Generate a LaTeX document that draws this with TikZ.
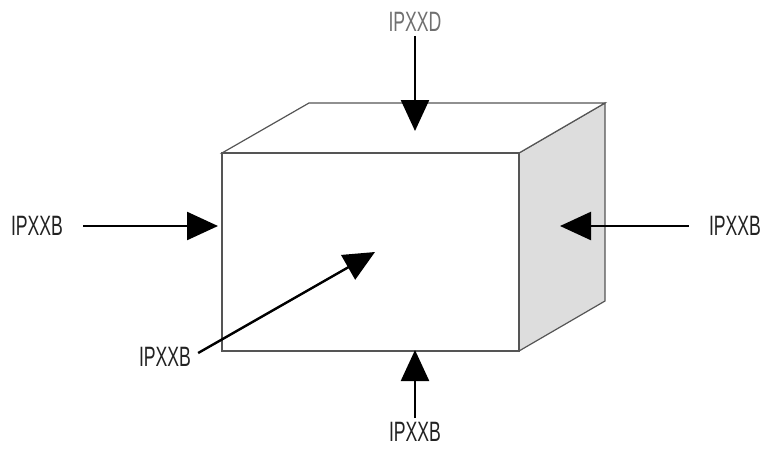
\documentclass[tikz,border=0pt]{standalone}
\usepackage{fontspec}
\setmainfont{Liberation Sans}[FakeStretch=0.63]
\usetikzlibrary{arrows.meta,positioning}
\definecolor{edgegray}{HTML}{555555}
\definecolor{sidegray}{HTML}{DDDDDD}
\definecolor{labelgray}{HTML}{222222}
\definecolor{topgray}{HTML}{707070}

\begin{document}
\begin{tikzpicture}[x=1pt, y=-1pt,
    lbl/.style={font=\fontsize{28}{28}\selectfont, text=labelgray, inner sep=0pt},
    face/.style={draw=edgegray, line width=1.2pt, line join=miter},
    push/.style={-{Triangle[length=31pt,width=28pt]}, line width=2.4pt}
  ]
  \useasboundingbox (0,0) rectangle (766,448);

  % box corners
  \coordinate (ftl) at (222,153);
  \coordinate (ftr) at (519,153);
  \coordinate (fbr) at (519,351);
  \coordinate (fbl) at (222,351);
  \coordinate (btl) at (309,103);
  \coordinate (btr) at (605,103);
  \coordinate (bbr) at (605,301);

  \filldraw[face, fill=sidegray] (ftr) -- (btr) -- (bbr) -- (fbr) -- cycle;
  \filldraw[face, fill=white] (ftl) -- (btl) -- (btr) -- (ftr) -- cycle;
  \filldraw[face, fill=white] (ftl) rectangle (fbr);

  % arrow tips
  \coordinate (tiptop)   at (415,131);
  \coordinate (tipleft)  at (218,226);
  \coordinate (tipright) at (560,226);
  \coordinate (tipdiag)  at (375,252);
  \coordinate (tipbot)   at (415,350);

  % labels
  \node[lbl, text=topgray] (ltop)   at (415,22)  {IPXXD};
  \node[lbl]               (lleft)  at (37,226)  {IPXXB};
  \node[lbl]               (lright) at (735,226) {IPXXB};
  \node[lbl]               (ldiag)  at (165,357) {IPXXB};
  \node[lbl]               (lbot)   at (415,432) {IPXXB};

  \draw[push, shorten <=4pt]  (ltop.south)  -- (tiptop);
  \draw[push, shorten <=20pt] (lleft.east)  -- (tipleft);
  \draw[push, shorten <=20pt] (lright.west) -- (tipright);
  \draw[push, shorten <=8pt]  (ldiag.east)  -- (tipdiag);
  \draw[push, shorten <=4pt]  (lbot.north)  -- (tipbot);
\end{tikzpicture}
\end{document}
